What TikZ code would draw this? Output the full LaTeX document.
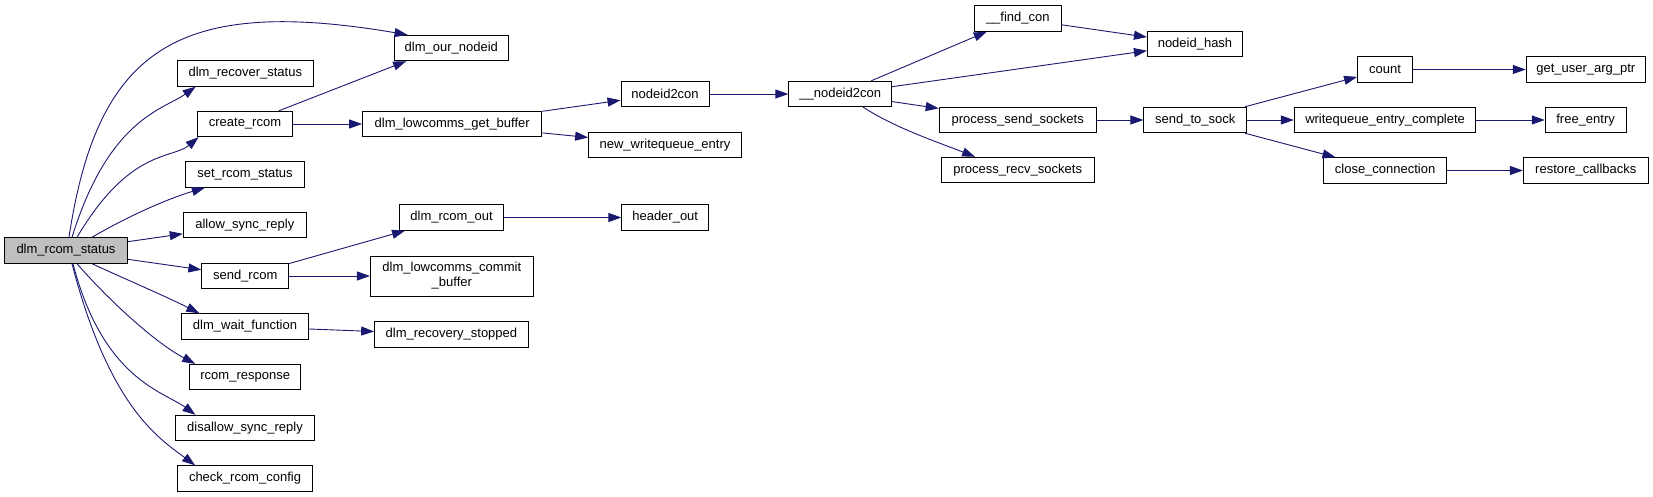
\documentclass[tikz,border=0pt]{standalone}
\usepackage{fontspec}
\setmainfont{Liberation Sans}
\usetikzlibrary{arrows.meta}
\definecolor{edgeblue}{HTML}{191970}
\definecolor{rootgray}{HTML}{BFBFBF}
\begin{document}
\begin{tikzpicture}[x=1pt,y=-1pt,
  fn/.style={draw=black, fill=white, line width=0.9pt, inner sep=0pt, minimum height=25.5pt, font=\fontsize{13}{15}\selectfont, align=center},
  root/.style={fn, fill=rootgray},
  call/.style={draw=edgeblue, line width=0.9pt, -{Triangle[length=13pt,width=9pt]}}]
\useasboundingbox (0,0) rectangle (1653,497);
\fill[white] (0,0) rectangle (1653,497);

\node[root, minimum width=123pt] (S) at (66,250.5) {dlm\_rcom\_status};
\node[fn, minimum width=113.4pt] (on) at (451.3,48) {dlm\_our\_nodeid};
\node[fn, minimum width=135.5pt] (rs) at (245.3,73.5) {dlm\_recover\_status};
\node[fn, minimum width=95pt] (cr) at (245,124) {create\_rcom};
\node[fn, minimum width=179.3pt] (gb) at (452.2,124) {dlm\_lowcomms\_get\_buffer};
\node[fn, minimum width=119.3pt] (ss) at (245,174.5) {set\_rcom\_status};
\node[fn, minimum width=123.2pt] (as) at (244.8,225) {allow\_sync\_reply};
\node[fn, minimum width=104.6pt] (ro) at (451.6,217.5) {dlm\_rcom\_out};
\node[fn, minimum width=86.8pt] (sr) at (245.2,276) {send\_rcom};
\node[fn, minimum width=162.8pt, minimum height=40pt] (cb) at (451.8,276) {dlm\_lowcomms\_commit\\\_buffer};
\node[fn, minimum width=126.4pt] (wf) at (245,326.5) {dlm\_wait\_function};
\node[fn, minimum width=153.6pt] (rst) at (451.4,334.5) {dlm\_recovery\_stopped};
\node[fn, minimum width=111.1pt] (rr) at (245.2,377) {rcom\_response};
\node[fn, minimum width=139.2pt] (ds) at (245,428) {disallow\_sync\_reply};
\node[fn, minimum width=135pt] (cc) at (245,478.5) {check\_rcom\_config};
\node[fn, minimum width=86.4pt] (fc) at (1017.8,18.5) {\_\_find\_con};
\node[fn, minimum width=88.2pt] (n2c) at (665.1,94) {nodeid2con};
\node[fn, minimum width=102.8pt] (un) at (840.2,94) {\_\_nodeid2con};
\node[fn, minimum width=157.1pt] (pss) at (1017.7,120) {process\_send\_sockets};
\node[fn, minimum width=152.8pt] (nwe) at (665,145) {new\_writequeue\_entry};
\node[fn, minimum width=153.5pt] (prs) at (1017.7,170) {process\_recv\_sockets};
\node[fn, minimum width=86.7pt] (ho) at (665.2,217.5) {header\_out};
\node[fn, minimum width=95.2pt] (nh) at (1195,44) {nodeid\_hash};
\node[fn, minimum width=55pt] (ct) at (1385,69.5) {count};
\node[fn, minimum width=119.2pt] (ga) at (1585.8,69.5) {get\_user\_arg\_ptr};
\node[fn, minimum width=102.6pt] (sts) at (1195.2,120) {send\_to\_sock};
\node[fn, minimum width=181.6pt] (wec) at (1385.1,120) {writequeue\_entry\_complete};
\node[fn, minimum width=80.8pt] (fe) at (1585.6,120) {free\_entry};
\node[fn, minimum width=122.8pt] (cl) at (1385.1,170.5) {close\_connection};
\node[fn, minimum width=124.9pt] (rcb) at (1585.8,170.5) {restore\_callbacks};

\draw[call] ([xshift=3pt]S.north) .. controls (97.5,48) and (178,-4) .. ([xshift=13.4pt]on.north west);
\draw[call] ([xshift=6pt]S.north) .. controls (109,118) and (163.6,109.6) .. ([xshift=18.5pt]rs.south west);
\draw[call] ([xshift=11pt]S.north) .. controls (130,148) and (172,159.4) .. ([xshift=1.5pt]cr.south west);
\draw[call] ([xshift=26pt]S.north) .. controls (130,215) and (170,198) .. ([xshift=20pt]ss.south west);
\draw[call] (S) -- (as);
\draw[call] (S) -- (sr);
\draw[call] ([xshift=26pt]S.south) .. controls (125,279) and (165,296) .. ([xshift=18pt]wf.north west);
\draw[call] ([xshift=11pt]S.south) .. controls (109.5,301) and (155.4,342.9) .. ([xshift=6pt]rr.north west);
\draw[call] ([xshift=7pt]S.south) .. controls (103,379.4) and (163.6,391.4) .. ([xshift=20.5pt]ds.north west);
\draw[call] ([xshift=6pt]S.south) .. controls (109.5,408.5) and (160,439) .. ([xshift=18pt]cc.north west);
\draw[call] (cr) -- ([xshift=12pt]on.south west);
\draw[call] (cr) -- (gb);
\draw[call] (gb) -- (n2c);
\draw[call] (gb) -- (nwe);
\draw[call] (n2c) -- (un);
\draw[call] (un) -- (fc);
\draw[call] (un) -- (nh);
\draw[call] (un) -- (pss);
\draw[call] ([xshift=23pt]un.south) .. controls (895,128) and (940,143) .. ([xshift=34.6pt]prs.north west);
\draw[call] (fc) -- (nh);
\draw[call] (pss) -- (sts);
\draw[call] (sts) -- (ct);
\draw[call] (sts) -- (wec);
\draw[call] (sts) -- (cl);
\draw[call] (ct) -- (ga);
\draw[call] (wec) -- (fe);
\draw[call] (cl) -- (rcb);
\draw[call] (sr) -- (ro);
\draw[call] (sr) -- (cb);
\draw[call] (ro) -- (ho);
\draw[call] (wf) -- (rst);
\end{tikzpicture}
\end{document}
